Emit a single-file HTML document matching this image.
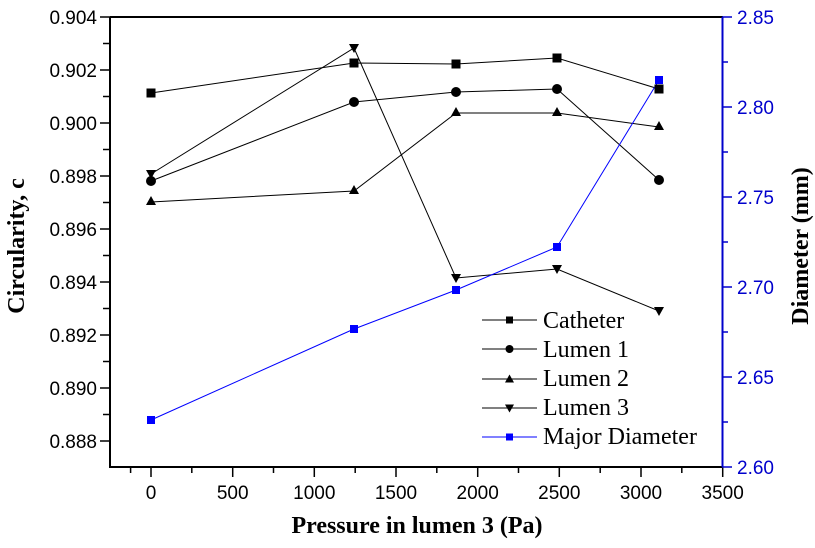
<!DOCTYPE html>
<html><head><meta charset="utf-8"><style>body{margin:0;background:#fff}svg{display:block}</style></head><body>
<svg width="815" height="548" xmlns="http://www.w3.org/2000/svg">
<rect width="815" height="548" fill="#fff"/>
<g stroke="#000" stroke-width="2" fill="none">
<line x1="110" y1="17" x2="723" y2="17"/>
<line x1="110" y1="17" x2="110" y2="467"/>
<line x1="109" y1="467" x2="723" y2="467"/>
</g>
<line x1="722.5" y1="17" x2="722.5" y2="467" stroke="#0000cc" stroke-width="2"/>
<g stroke="#000" stroke-width="1.5">
<line x1="100" y1="17" x2="110" y2="17"/><line x1="103" y1="43.5" x2="110" y2="43.5"/>
<line x1="100" y1="70" x2="110" y2="70"/><line x1="103" y1="96.5" x2="110" y2="96.5"/>
<line x1="100" y1="123" x2="110" y2="123"/><line x1="103" y1="149.5" x2="110" y2="149.5"/>
<line x1="100" y1="176" x2="110" y2="176"/><line x1="103" y1="202.5" x2="110" y2="202.5"/>
<line x1="100" y1="229" x2="110" y2="229"/><line x1="103" y1="255.5" x2="110" y2="255.5"/>
<line x1="100" y1="282" x2="110" y2="282"/><line x1="103" y1="308.5" x2="110" y2="308.5"/>
<line x1="100" y1="335" x2="110" y2="335"/><line x1="103" y1="361.5" x2="110" y2="361.5"/>
<line x1="100" y1="388" x2="110" y2="388"/><line x1="103" y1="414.5" x2="110" y2="414.5"/>
<line x1="100" y1="441" x2="110" y2="441"/>
<line x1="130.6" y1="467" x2="130.6" y2="473"/>
<line x1="151" y1="467" x2="151" y2="477"/><line x1="191.8" y1="467" x2="191.8" y2="473"/>
<line x1="232.7" y1="467" x2="232.7" y2="477"/><line x1="273.5" y1="467" x2="273.5" y2="473"/>
<line x1="314.3" y1="467" x2="314.3" y2="477"/><line x1="355.2" y1="467" x2="355.2" y2="473"/>
<line x1="396" y1="467" x2="396" y2="477"/><line x1="436.8" y1="467" x2="436.8" y2="473"/>
<line x1="477.7" y1="467" x2="477.7" y2="477"/><line x1="518.5" y1="467" x2="518.5" y2="473"/>
<line x1="559.3" y1="467" x2="559.3" y2="477"/><line x1="600.2" y1="467" x2="600.2" y2="473"/>
<line x1="641" y1="467" x2="641" y2="477"/><line x1="681.8" y1="467" x2="681.8" y2="473"/>
<line x1="722.7" y1="467" x2="722.7" y2="477"/>
</g>
<g stroke="#0000cc" stroke-width="1.5">
<line x1="722" y1="17" x2="732" y2="17"/><line x1="722" y1="62" x2="728" y2="62"/>
<line x1="722" y1="107" x2="732" y2="107"/><line x1="722" y1="152" x2="728" y2="152"/>
<line x1="722" y1="197" x2="732" y2="197"/><line x1="722" y1="242" x2="728" y2="242"/>
<line x1="722" y1="287" x2="732" y2="287"/><line x1="722" y1="332" x2="728" y2="332"/>
<line x1="722" y1="377" x2="732" y2="377"/><line x1="722" y1="422" x2="728" y2="422"/>
<line x1="722" y1="467" x2="732" y2="467"/>
</g>
<g font-family="Liberation Sans, sans-serif" font-size="19" fill="#000" text-anchor="end">
<text x="97" y="24">0.904</text><text x="97" y="77">0.902</text><text x="97" y="130">0.900</text>
<text x="97" y="183">0.898</text><text x="97" y="236">0.896</text><text x="97" y="289">0.894</text>
<text x="97" y="342">0.892</text><text x="97" y="395">0.890</text><text x="97" y="448">0.888</text>
</g>
<g font-family="Liberation Sans, sans-serif" font-size="19" fill="#000" text-anchor="middle">
<text x="151" y="499">0</text><text x="232.7" y="499">500</text><text x="314.3" y="499">1000</text>
<text x="396" y="499">1500</text><text x="477.7" y="499">2000</text><text x="559.3" y="499">2500</text>
<text x="641" y="499">3000</text><text x="722.7" y="499">3500</text>
</g>
<g font-family="Liberation Sans, sans-serif" font-size="19" fill="#0000cc">
<text x="737" y="24">2.85</text><text x="737" y="114">2.80</text><text x="737" y="204">2.75</text>
<text x="737" y="294">2.70</text><text x="737" y="384">2.65</text><text x="737" y="474">2.60</text>
</g>
<g font-family="Liberation Serif, serif" font-weight="bold" font-size="24" fill="#000" text-anchor="middle">
<text x="417" y="533">Pressure in lumen 3 (Pa)</text>
<text transform="translate(24,246) rotate(-90)">Circularity, c</text>
<text transform="translate(808,246) rotate(-90)">Diameter (mm)</text>
</g>
<g stroke="#000" stroke-width="1" fill="none">
<polyline points="151,93 354,63 456,64 557,58 659,89"/>
<polyline points="151,181 354,102 456,92 557,89 659,180"/>
<polyline points="151,202 354,191 456,113 557,113 659,127"/>
<polyline points="151,174 354,48 456,278 557,269 659,311"/>
</g>
<polyline points="151,420 354,329 456,290 557,247 659,80" stroke="#0000ff" stroke-width="1" fill="none"/>
<g fill="#000">
<rect x="146.5" y="88.5" width="9" height="9"/><rect x="349.5" y="58.5" width="9" height="9"/><rect x="451.5" y="59.5" width="9" height="9"/><rect x="552.5" y="53.5" width="9" height="9"/><rect x="654.5" y="84.5" width="9" height="9"/>
<circle cx="151" cy="181" r="5"/><circle cx="354" cy="102" r="5"/><circle cx="456" cy="92" r="5"/><circle cx="557" cy="89" r="5"/><circle cx="659" cy="180" r="5"/>
<path d="M146,205h10l-5,-9zM349,194h10l-5,-9zM451,116h10l-5,-9zM552,116h10l-5,-9zM654,130h10l-5,-9z"/>
<path d="M146,170h10l-5,9zM349,44h10l-5,9zM451,274h10l-5,9zM552,265h10l-5,9zM654,307h10l-5,9z"/>
</g>
<g fill="#0000ff">
<rect x="147" y="416" width="8" height="8"/><rect x="350" y="325" width="8" height="8"/><rect x="452" y="286" width="8" height="8"/><rect x="553" y="243" width="8" height="8"/><rect x="655" y="76" width="8" height="8"/>
</g>
<g stroke="#000" stroke-width="1">
<line x1="482" y1="320" x2="537" y2="320"/><line x1="482" y1="349" x2="537" y2="349"/>
<line x1="482" y1="379" x2="537" y2="379"/><line x1="482" y1="408" x2="537" y2="408"/>
</g>
<line x1="482" y1="437" x2="537" y2="437" stroke="#0000ff" stroke-width="1"/>
<g fill="#000">
<rect x="506" y="316.5" width="7" height="7"/><circle cx="509.5" cy="349" r="4"/>
<path d="M505,382.5h9l-4.5,-8z"/><path d="M505,404.5h9l-4.5,8z"/>
</g>
<rect x="506" y="433.5" width="7" height="7" fill="#0000ff"/>
<g font-family="Liberation Serif, serif" font-size="24" fill="#000">
<text x="543" y="328">Catheter</text><text x="543" y="357">Lumen 1</text><text x="543" y="386">Lumen 2</text>
<text x="543" y="415">Lumen 3</text><text x="543" y="444">Major Diameter</text>
</g>
</svg>
</body></html>
